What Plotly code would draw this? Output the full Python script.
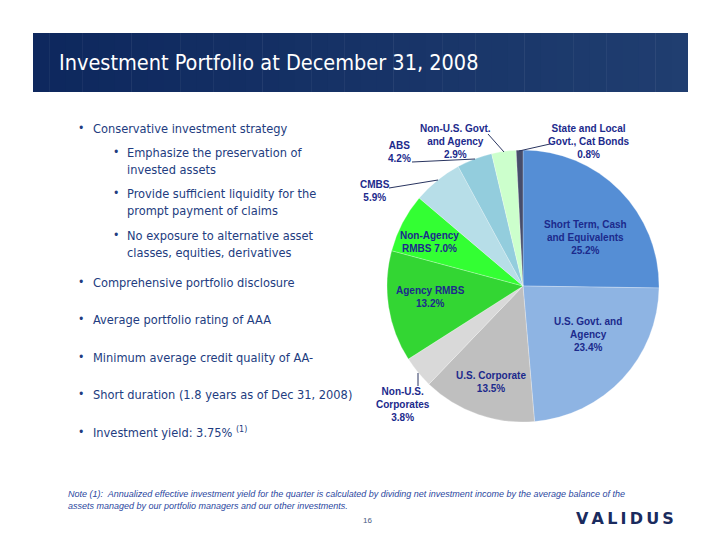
import plotly.graph_objects as go

W, H = 720, 556

# ---- data ----
categories = ["Short Term, Cash and Equivalents", "U.S. Govt. and Agency", "U.S. Corporate",
              "Non-U.S. Corporates", "Agency RMBS", "Non-Agency RMBS", "CMBS", "ABS",
              "Non-U.S. Govt. and Agency", "State and Local Govt., Cat Bonds"]
values = [25.2, 23.4, 13.5, 3.8, 13.2, 7.0, 5.9, 4.2, 2.9, 0.8]
label_text = ["Short Term, Cash<br>and Equivalents<br>25.2%", "U.S. Govt. and<br>Agency<br>23.4%",
              "U.S. Corporate<br>13.5%", "Non-U.S.<br>Corporates<br>3.8%", "Agency RMBS<br>13.2%",
              "Non-Agency<br>RMBS 7.0%", "CMBS<br>5.9%", "ABS<br>4.2%",
              "Non-U.S. Govt.<br>and Agency<br>2.9%", "State and Local<br>Govt., Cat Bonds<br>0.8%"]
colors = ["#558ED5", "#8EB4E3", "#BFBFBF", "#D9D9D9", "#33D633", "#33FF33",
          "#B7DEE8", "#93CDDD", "#CCFFCC", "#464D6B"]

bullets = [
    (0, "Conservative investment strategy"),
    (1, "Emphasize the preservation of<br>invested assets"),
    (1, "Provide sufficient liquidity for the<br>prompt payment of claims"),
    (1, "No exposure to alternative asset<br>classes, equities, derivatives"),
    (0, "Comprehensive portfolio disclosure"),
    (0, "Average portfolio rating of AAA"),
    (0, "Minimum average credit quality of AA-"),
    (0, "Short duration (1.8 years as of Dec 31, 2008)"),
    (0, "Investment yield: 3.75% <sup>(1)</sup>"),
]
bullet_y = [128, 161, 202, 244, 282, 319, 357, 394, 432]

title = "Investment Portfolio at December 31, 2008"
note = ("Note (1):  Annualized effective investment yield for the quarter is calculated by dividing net investment income by the average balance of the<br>"
        "assets managed by our portfolio managers and our other investments.")

# label positions (pixel) for each slice
label_pos = [(585, 237), (588, 334), (491, 382), (403, 404), (430, 297),
             (429, 242), (375, 191), (399, 152), (455, 142), (589, 142)]
leaders = [((519, 151), (550, 144)), ((504, 152), (488, 134)), ((475, 159), (412, 162)),
           ((438, 180), (389, 188)), ((418, 373), (418, 386))]


def px(x, y):
    return x / W, 1 - y / H


fig = go.Figure()
cx0, cx1, cy0, cy1 = 387, 659, 150, 422
fig.add_trace(go.Pie(
    labels=categories, values=values, sort=False, direction="clockwise", rotation=0,
    marker=dict(colors=colors, line=dict(color="rgba(255,255,255,0.5)", width=0.5)),
    textinfo="none", hoverinfo="label+percent", showlegend=False,
    domain=dict(x=[cx0 / W, cx1 / W], y=[1 - cy1 / H, 1 - cy0 / H]),
))

shapes = []
# gradient title bar
n = 40
x0b, x1b = 33, 688
for i in range(n):
    t = i / (n - 1)
    r = int(14 + (32 - 14) * t)
    g = int(40 + (62 - 40) * t)
    b = int(94 + (112 - 94) * t)
    xa = x0b + (x1b - x0b) * i / n
    xb = x0b + (x1b - x0b) * (i + 1) / n + 0.5
    shapes.append(dict(type="rect", xref="paper", yref="paper",
                       x0=xa / W, x1=min(xb, x1b) / W, y0=1 - 92 / H, y1=1 - 33 / H,
                       fillcolor=f"rgb({r},{g},{b})", line=dict(width=0), layer="below"))

for (a, b2) in leaders:
    xa, ya = px(*a)
    xb, yb = px(*b2)
    shapes.append(dict(type="line", xref="paper", yref="paper", x0=xa, y0=ya, x1=xb, y1=yb,
                       line=dict(color="#2A3560", width=1)))

ann = []
tx, ty = px(57, 63)
ann.append(dict(text=title, x=tx, y=ty, xref="paper", yref="paper", xanchor="left", yanchor="middle",
                showarrow=False, font=dict(family="DejaVu Sans Condensed", size=21.5, color="white")))

bullet_color = "#223C80"
for (lvl, txt), yy in zip(bullets, bullet_y):
    bx = 76 if lvl == 0 else 111
    tx0 = 91 if lvl == 0 else 125
    nlines = txt.count("<br>") + 1
    ytop = yy - 9 * (nlines - 1)
    x_, y_ = px(bx, ytop)
    ann.append(dict(text="•", x=x_, y=y_, xref="paper", yref="paper", xanchor="left", yanchor="middle",
                    showarrow=False, font=dict(family="DejaVu Sans Condensed", size=12, color=bullet_color)))
    x_, y_ = px(tx0, yy)
    ann.append(dict(text=txt, x=x_, y=y_, xref="paper", yref="paper", xanchor="left", yanchor="middle",
                    align="left", showarrow=False,
                    font=dict(family="DejaVu Sans Condensed", size=12.7, color=bullet_color)))

for txt, (lx, ly) in zip(label_text, label_pos):
    x_, y_ = px(lx, ly)
    ann.append(dict(text=f"<b>{txt}</b>", x=x_, y=y_, xref="paper", yref="paper", xanchor="center",
                    yanchor="middle", align="center", showarrow=False,
                    font=dict(family="Liberation Sans", size=10, color="#1C2A8C")))

x_, y_ = px(66, 500)
ann.append(dict(text=f"<i>{note}</i>", x=x_, y=y_, xref="paper", yref="paper", xanchor="left",
                yanchor="middle", align="left", showarrow=False,
                font=dict(family="Liberation Sans", size=9, color="#2B47A0")))
x_, y_ = px(367, 520)
ann.append(dict(text="16", x=x_, y=y_, xref="paper", yref="paper", xanchor="center", yanchor="middle",
                showarrow=False, font=dict(family="Liberation Sans", size=8, color="#4A5A80")))
x_, y_ = px(625, 518)
ann.append(dict(text="<b>V\u2009A\u2009L\u2009I\u2009D\u2009U\u2009S</b>", x=x_, y=y_, xref="paper", yref="paper",
                xanchor="center", yanchor="middle", showarrow=False,
                font=dict(family="DejaVu Sans", size=16, color="#1A2B5E")))

fig.update_layout(width=W, height=H, margin=dict(l=0, r=0, t=0, b=0),
                  paper_bgcolor="white", plot_bgcolor="white",
                  shapes=shapes, annotations=ann)
fig.write_html("out.html", config={"displayModeBar": False},
               post_script="document.body.style.margin='0';document.body.style.overflow='hidden';")
